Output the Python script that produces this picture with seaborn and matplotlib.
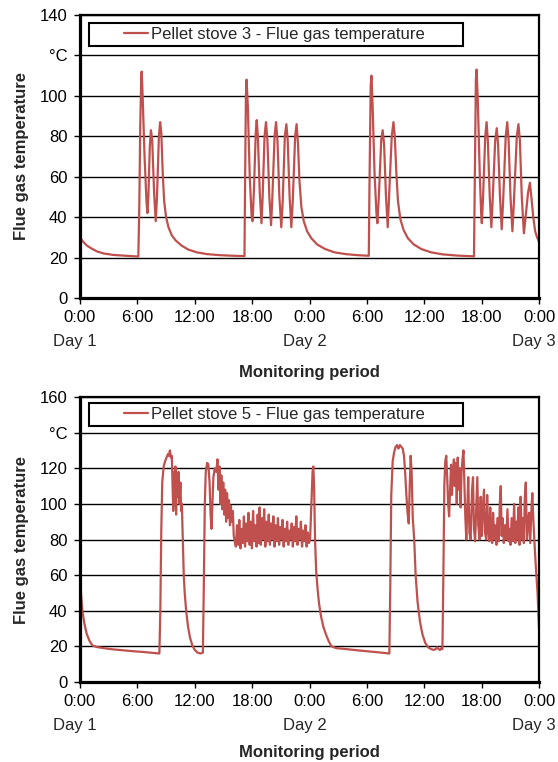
import matplotlib
matplotlib.use("Agg")
import matplotlib.pyplot as plt
import matplotlib.transforms as mtransforms
import seaborn as sns
from matplotlib.lines import Line2D
from matplotlib.legend_handler import HandlerLine2D

# x axis: hours from 0:00 Day 1 to 0:00 Day 3
x_ticks = [0, 6, 12, 18, 24, 30, 36, 42, 48]
x_labels = ["0:00", "6:00", "12:00", "18:00", "0:00",
            "6:00", "12:00", "18:00", "0:00"]
day_hours = [0, 24, 48]
day_labels = ["Day 1", "Day 2", "Day 3"]

# pellet stove 3 (top panel)
s3_label = "Pellet stove 3 - Flue gas temperature"
s3_yticks = [0, 20, 40, 60, 80, 100, 120, 140]
s3_ylabels = ["0", "20", "40", "60", "80", "100", "°C", "140"]
s3_hours = [
    0.0, 0.3, 0.7, 1.2, 1.8, 2.5, 3.5, 4.5, 5.5, 6.1,
    6.2, 6.3, 6.4, 6.45, 6.55, 6.75, 6.95, 7.05, 7.15, 7.3,
    7.42, 7.55, 7.75, 7.92, 8.05, 8.25, 8.38, 8.5, 8.65, 8.8,
    9.0, 9.25, 9.6, 10.0, 10.6, 11.3, 12.2, 13.3, 14.6, 16.0,
    17.2, 17.25, 17.35, 17.42, 17.55, 17.75, 17.95, 18.05, 18.2, 18.38,
    18.48, 18.6, 18.8, 18.98, 19.1, 19.3, 19.45, 19.6, 19.8, 19.98,
    20.1, 20.35, 20.5, 20.65, 20.85, 21.05, 21.2, 21.42, 21.58, 21.72,
    21.92, 22.1, 22.25, 22.5, 22.65, 22.8, 22.95, 23.15, 23.4, 23.75,
    24.2, 24.8, 25.6, 26.6, 27.8, 29.0, 30.2, 30.27, 30.4, 30.48,
    30.6, 30.8, 31.0, 31.1, 31.25, 31.5, 31.65, 31.8, 32.0, 32.18,
    32.3, 32.6, 32.78, 32.92, 33.08, 33.25, 33.5, 33.85, 34.3, 34.9,
    35.7, 36.7, 37.9, 39.4, 41.2, 41.28, 41.4, 41.47, 41.6, 41.8,
    41.95, 42.02, 42.15, 42.38, 42.52, 42.65, 42.85, 43.02, 43.15, 43.42,
    43.58, 43.72, 43.92, 44.1, 44.25, 44.52, 44.68, 44.82, 45.02, 45.22,
    45.38, 45.68, 45.85, 46.0, 46.2, 46.42, 46.6, 46.85, 47.05, 47.2,
    47.4, 47.6, 47.8, 48.0,
]
s3_temps = [
    30, 28, 26, 24.5, 23, 22, 21.3, 21, 20.7, 20.5,
    45, 85, 108, 112, 100, 70, 48, 42, 50, 75,
    83, 78, 52, 38, 50, 80, 87, 82, 62, 48,
    40, 35, 31, 28.5, 26, 24, 22.6, 21.7, 21.2, 20.9,
    20.7, 50, 100, 108, 95, 60, 40, 38, 55, 82,
    88, 80, 52, 37, 50, 80, 87, 78, 50, 36,
    48, 80, 87, 78, 50, 35, 48, 80, 86, 78,
    50, 35, 48, 80, 86, 76, 58, 45, 38, 33,
    29.5, 26.5, 24.3, 22.6, 21.7, 21.2, 20.9, 55, 105, 110,
    95, 62, 42, 37, 50, 78, 83, 76, 50, 35,
    48, 80, 87, 80, 62, 48, 39, 33.5, 29.5, 26.5,
    24.2, 22.6, 21.6, 21.0, 20.6, 55, 108, 113, 98, 62,
    42, 37, 50, 80, 87, 78, 50, 35, 48, 78,
    84, 76, 50, 34, 48, 80, 87, 78, 50, 33,
    48, 80, 86, 78, 50, 32, 40, 52, 57, 50,
    40, 33, 30, 28,
]

# pellet stove 5 (bottom panel)
s5_label = "Pellet stove 5 - Flue gas temperature"
s5_yticks = [0, 20, 40, 60, 80, 100, 120, 140, 160]
s5_ylabels = ["0", "20", "40", "60", "80", "100", "120", "°C", "160"]
s5_hours = [
    0.0, 0.1, 0.25, 0.45, 0.7, 1.0, 1.3, 1.8, 2.6, 3.5,
    4.5, 5.5, 6.5, 7.5, 8.3, 8.4, 8.5, 8.6, 8.75, 8.9,
    9.05, 9.2, 9.3, 9.4, 9.5, 9.6, 9.68, 9.75, 9.82, 9.9,
    9.98, 10.05, 10.12, 10.2, 10.3, 10.4, 10.5, 10.58, 10.65, 10.75,
    10.85, 10.95, 11.1, 11.3, 11.5, 11.75, 12.0, 12.3, 12.6, 12.85,
    12.95, 13.05, 13.15, 13.3, 13.42, 13.55, 13.65, 13.75, 13.85, 13.95,
    14.1, 14.25, 14.38, 14.48, 14.58, 14.68, 14.78, 14.88, 14.98, 15.08,
    15.18, 15.28, 15.38, 15.48, 15.58, 15.68, 15.78, 15.88, 15.98, 16.08,
    16.18, 16.3, 16.42, 16.54, 16.66, 16.78, 16.9, 17.02, 17.14, 17.26,
    17.38, 17.5, 17.62, 17.74, 17.86, 17.98, 18.1, 18.22, 18.34, 18.46,
    18.58, 18.7, 18.78, 18.9, 19.02, 19.14, 19.26, 19.38, 19.5, 19.62,
    19.74, 19.86, 19.98, 20.1, 20.22, 20.34, 20.46, 20.58, 20.7, 20.82,
    20.94, 21.06, 21.18, 21.3, 21.42, 21.54, 21.66, 21.78, 21.9, 22.02,
    22.14, 22.26, 22.38, 22.5, 22.62, 22.74, 22.86, 22.98, 23.1, 23.22,
    23.34, 23.46, 23.58, 23.7, 23.82, 23.94, 24.06, 24.2, 24.32, 24.4,
    24.48, 24.58, 24.7, 24.85, 25.0, 25.2, 25.45, 25.7, 26.0, 26.3,
    26.8, 27.8, 29.0, 30.2, 31.3, 32.35, 32.45, 32.55, 32.7, 32.85,
    33.0, 33.15, 33.3, 33.45, 33.6, 33.75, 33.88, 34.0, 34.12, 34.25,
    34.38, 34.48, 34.58, 34.68, 34.8, 34.95, 35.1, 35.3, 35.55, 35.8,
    36.1, 36.4, 36.7, 37.0, 37.2, 37.35, 37.5, 37.65, 37.8, 37.9,
    38.0, 38.1, 38.2, 38.3, 38.4, 38.5, 38.6, 38.7, 38.8, 38.9,
    39.0, 39.1, 39.2, 39.3, 39.4, 39.5, 39.6, 39.7, 39.8, 39.9,
    40.0, 40.1, 40.2, 40.3, 40.4, 40.5, 40.6, 40.72, 40.85, 41.0,
    41.1, 41.2, 41.32, 41.45, 41.55, 41.65, 41.78, 41.9, 42.02, 42.15,
    42.25, 42.35, 42.48, 42.58, 42.68, 42.8, 42.9, 43.0, 43.1, 43.2,
    43.32, 43.42, 43.55, 43.65, 43.8, 43.9, 44.0, 44.1, 44.2, 44.32,
    44.45, 44.58, 44.7, 44.82, 44.92, 45.02, 45.14, 45.28, 45.4, 45.52,
    45.62, 45.72, 45.84, 45.96, 46.08, 46.2, 46.3, 46.42, 46.52, 46.62,
    46.74, 46.86, 46.96, 47.08, 47.2, 47.3, 47.4, 47.55, 47.7, 47.85,
    48.0,
]
s5_temps = [
    63, 50, 40, 33, 27, 23, 20.5, 19.6, 18.9, 18.3,
    17.8, 17.3, 16.9, 16.4, 16.0, 40, 85, 112, 121, 124,
    126, 128, 127, 130, 126, 127, 110, 96, 118, 99,
    121, 94, 116, 104, 118, 100, 112, 96, 100, 80,
    60, 50, 40, 31, 25, 20.5, 18, 16.5, 16, 16.5,
    55, 100, 118, 123, 122, 112, 95, 86, 100, 115,
    120, 118, 125, 108, 121, 100, 116, 97, 112, 94,
    108, 90, 106, 92, 102, 88, 99, 90, 96, 82,
    79, 76, 88, 77, 91, 75, 86, 78, 93, 76,
    89, 79, 95, 77, 90, 75, 96, 79, 88, 76,
    94, 78, 98, 77, 92, 80, 97, 76, 90, 79,
    94, 77, 89, 80, 93, 76, 88, 79, 92, 77,
    87, 80, 91, 76, 86, 79, 90, 77, 85, 80,
    89, 76, 87, 79, 93, 77, 86, 80, 90, 76,
    85, 79, 88, 76, 84, 78, 80, 100, 118, 121,
    110, 80, 62, 52, 44, 37, 31, 27, 23, 20,
    19, 18.5, 17.8, 17.2, 16.6, 16, 55, 105, 124, 129,
    132, 133, 131, 133, 132, 131, 127, 118, 106, 95,
    89, 110, 127, 118, 92, 80, 60, 45, 34, 27,
    22, 19.5, 18.5, 18, 18.5, 19.5, 18.5, 18, 19, 18.5,
    60, 110, 124, 127, 115, 100, 93, 108, 122, 105,
    118, 125, 110, 123, 100, 126, 108, 120, 98, 118,
    125, 130, 112, 92, 80, 96, 115, 84, 80, 108,
    115, 86, 79, 100, 115, 88, 80, 104, 82, 100,
    108, 84, 80, 105, 86, 79, 98, 82, 78, 95,
    80, 88, 77, 92, 79, 100, 110, 82, 92, 78,
    88, 80, 97, 79, 86, 77, 92, 79, 100, 78,
    90, 80, 98, 77, 104, 80, 92, 78, 104, 112,
    80, 90, 95, 78, 96, 106, 92, 76, 62, 50,
    30,
]

RED = "#C0504D"

sns.set_theme(style="ticks")
plt.rcParams["font.family"] = ["Liberation Sans", "DejaVu Sans"]

fig = plt.figure(figsize=(5.58, 7.62), dpi=100)
ax1 = fig.add_axes([80 / 558, 1 - 298 / 762, 459 / 558, 283 / 762])
ax2 = fig.add_axes([80 / 558, 1 - 682 / 762, 459 / 558, 285 / 762])

panels = [
    (ax1, s3_hours, s3_temps, s3_label, s3_yticks, s3_ylabels, 140, 0.9717, -0.155, -0.235),
    (ax2, s5_hours, s5_temps, s5_label, s5_yticks, s5_ylabels, 160, 0.979, -0.154, -0.221),
]

for ax, hrs, tmp, lab, yt, ylab, ymax, leg_top, day_y, xlab_y in panels:
    sns.lineplot(x=hrs, y=tmp, ax=ax, color=RED, lw=1.6, label=lab)
    ax.set_xlim(0, 48)
    ax.set_ylim(0, ymax)
    ax.set_xticks(x_ticks)
    ax.set_xticklabels(x_labels)
    ax.set_yticks(yt)
    ax.set_yticklabels(ylab)
    ax.tick_params(axis="both", direction="out", length=4, width=1,
                   colors="black", labelsize=12, pad=5)
    ax.yaxis.grid(True, color="black", lw=1)
    ax.xaxis.grid(False)
    for side in ["left", "bottom"]:
        ax.spines[side].set_linewidth(2.3)
        ax.spines[side].set_color("black")
    for side in ["top", "right"]:
        ax.spines[side].set_linewidth(1.6)
        ax.spines[side].set_color("black")

    # day names under the midnight ticks
    trans = mtransforms.offset_copy(ax.get_xaxis_transform(), fig=fig, x=-5, y=0, units="dots")
    for h, d in zip(day_hours, day_labels):
        ax.text(h, day_y, d, transform=trans, ha="center", va="center", fontsize=12)

    ax.set_ylabel("Flue gas temperature", fontsize=12, fontweight="bold")
    ax.set_xlabel("Monitoring period", fontsize=12, fontweight="bold")
    ax.yaxis.set_label_coords(-0.112, 0.5)
    ax.xaxis.set_label_coords(0.5, xlab_y)
    leg = ax.legend(loc="upper left", bbox_to_anchor=(0.0196, leg_top, 0.815, 0),
                    mode="expand", borderaxespad=0, borderpad=0.25,
                    fancybox=False, edgecolor="black", framealpha=1,
                    fontsize=12, handlelength=3.3, handletextpad=0.2,
                    handler_map={Line2D: HandlerLine2D(xpad=1.85)})
    leg.get_frame().set_linewidth(1.5)

fig.savefig("out.png", dpi=100)
